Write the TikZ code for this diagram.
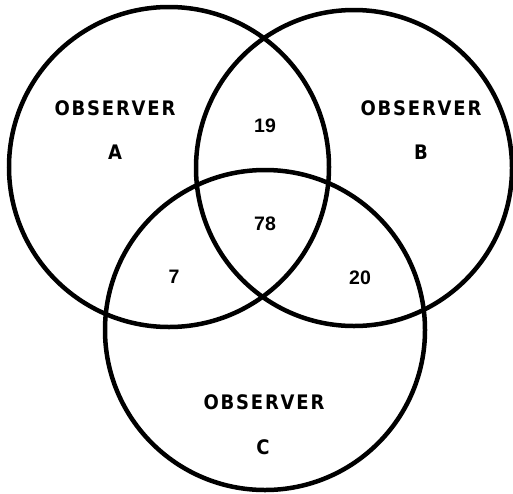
\documentclass[tikz,border=0pt]{standalone}
\usepackage{fontspec}
\setmainfont{Liberation Sans}
\newfontfamily\lblfont[LetterSpace=9]{DejaVu Sans Condensed Bold}
\begin{document}
\begin{tikzpicture}[x=1pt,y=-1pt,
  ring/.style={draw=black,line width=4.5pt},
  lbl/.style={font=\lblfont\fontsize{20}{20}\selectfont,inner sep=0pt,anchor=center},
  num/.style={font=\bfseries\fontsize{19.5}{19.5}\selectfont,inner sep=0pt}]
\useasboundingbox (0,0) rectangle (513,493);
\draw[ring] (169,167) circle (160);
\draw[ring] (354,168) circle (158);
\draw[ring] (265,330) circle (160);
\node[lbl] (oa) at (115,108) {OBSERVER};
\node[lbl] (la) at (115,152) {A};
\node[lbl] (ob) at (421,108) {OBSERVER};
\node[lbl] (lb) at (421,152) {B};
\node[lbl] (oc) at (264,402) {OBSERVER};
\node[lbl] (lc) at (263,447) {C};
\node[num] (n19) at (265,126) {19};
\node[num] (n78) at (265,224) {78};
\node[num] (n7) at (174,277) {7};
\node[num] (n20) at (360,278) {20};
\end{tikzpicture}
\end{document}
